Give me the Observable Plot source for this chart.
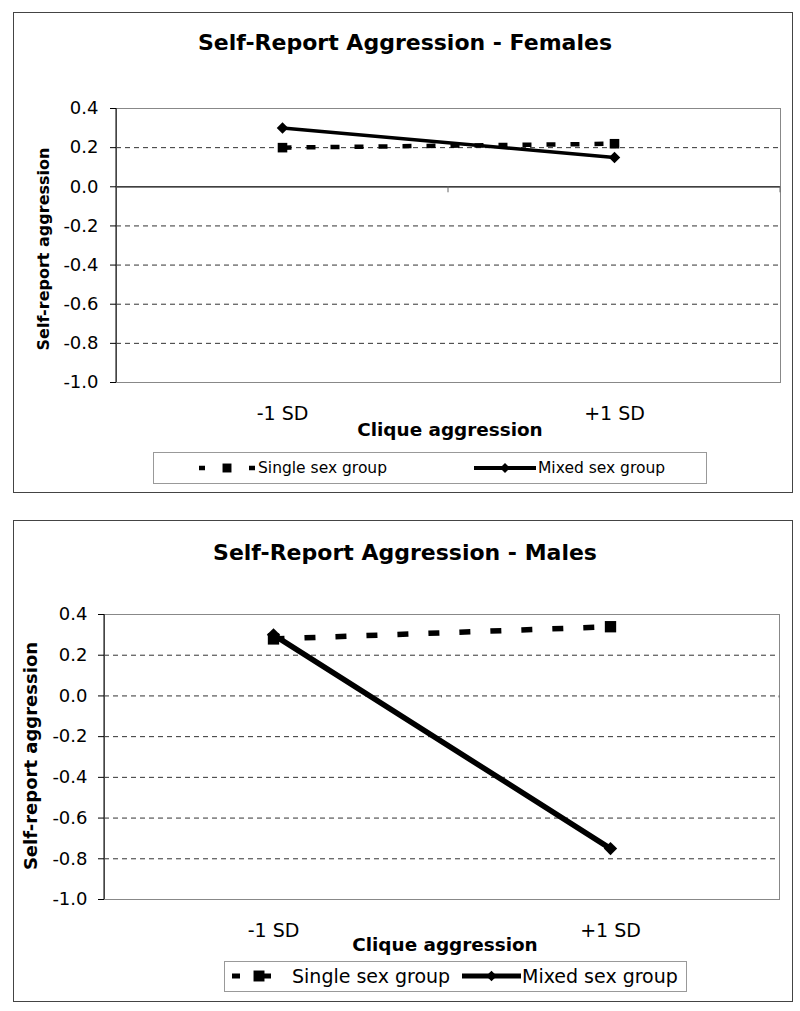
<!DOCTYPE html>
<html><head><meta charset="utf-8">
<script src="https://cdn.jsdelivr.net/npm/d3@7"></script>
<script src="https://cdn.jsdelivr.net/npm/@observablehq/plot@0.6"></script>
<style>
body{margin:0;background:#fff;font-family:"DejaVu Sans",sans-serif;}
#page{position:relative;width:800px;height:1011px;overflow:hidden;background:#fff;}
.panel{position:absolute;box-sizing:border-box;border:1.5px solid #444;}
.lbl{position:absolute;white-space:nowrap;text-align:center;color:#000;}
.legend{position:absolute;box-sizing:border-box;border:1px solid #999;background:#fff;}
.chart{position:absolute;left:0;}
</style></head><body><div id="page"></div>
<script>
// ---- data ----
const categories = ["-1 SD", "+1 SD"];
const seriesNames = ["Single sex group", "Mixed sex group"];
const femaleSingle = [0.20, 0.22];
const femaleMixed = [0.30, 0.15];
const maleSingle = [0.28, 0.34];
const maleMixed = [0.30, -0.75];
const yTicks = [0.4, 0.2, 0.0, -0.2, -0.4, -0.6, -0.8, -1.0];
const femaleGrid = [0.2, -0.2, -0.4, -0.6, -0.8];
const maleGrid = [0.2, 0.0, -0.2, -0.4, -0.6, -0.8];
const titles = ["Self-Report Aggression - Females", "Self-Report Aggression - Males"];
const xTitle = "Clique aggression";
const yTitle = "Self-report aggression";

function rows(single, mixed) {
  return categories.flatMap((c, i) => [
    {cat: c, series: seriesNames[0], value: single[i]},
    {cat: c, series: seriesNames[1], value: mixed[i]}
  ]);
}

const page = document.getElementById("page");

function label(text, cx, cy, size, weight, rotate) {
  const d = document.createElement("div");
  d.className = "lbl";
  d.textContent = text;
  d.style.left = (cx - 300) + "px";
  d.style.width = "600px";
  d.style.top = (cy - size) + "px";
  d.style.height = (2 * size) + "px";
  d.style.lineHeight = (2 * size) + "px";
  d.style.fontSize = size + "px";
  d.style.fontWeight = weight;
  if (rotate) d.style.transform = "rotate(-90deg)";
  page.appendChild(d);
}
function textAt(text, left, cy, size) {
  const d = document.createElement("div");
  d.className = "lbl";
  d.style.textAlign = "left";
  d.textContent = text;
  d.style.left = left + "px";
  d.style.top = (cy - size) + "px";
  d.style.height = (2 * size) + "px";
  d.style.lineHeight = (2 * size) + "px";
  d.style.fontSize = size + "px";
  page.appendChild(d);
}
function box(cls, l, t, w, h) {
  const d = document.createElement("div");
  d.className = cls;
  Object.assign(d.style, {left: l + "px", top: t + "px", width: w + "px", height: h + "px"});
  page.appendChild(d);
}
function sample(x0, x1, cy, opt) {
  const w = x1 - x0, h = 20;
  const svg = d3.create("svg").attr("width", w).attr("height", h)
    .style("position", "absolute").style("left", x0 + "px").style("top", (cy - h / 2) + "px").style("overflow", "visible");
  svg.append("line").attr("x1", 0).attr("x2", w).attr("y1", h / 2).attr("y2", h / 2)
    .attr("stroke", "#000").attr("stroke-width", opt.sw).attr("stroke-dasharray", opt.dash || null);
  svg.append("path").attr("transform", `translate(${opt.cx ?? w / 2},${h / 2})`)
    .attr("d", d3.symbol(opt.symbol, opt.size)()).attr("fill", "#000");
  page.appendChild(svg.node());
}

function chart(cfg, data) {
  const single = data.filter(d => d.series === seriesNames[0]);
  const mixed = data.filter(d => d.series === seriesNames[1]);
  const marks = [
    Plot.ruleY(cfg.grid, {stroke: "#333", strokeWidth: 1, strokeDasharray: "5,4"}),
    cfg.zeroAxis ? Plot.ruleY([0], {stroke: "#000", strokeWidth: 1.2}) : null,
    Plot.frame({stroke: "#888"}),
    (index, scales, values, dims) => {
      const g = d3.create("svg:g");
      const x0 = dims.marginLeft, x1 = dims.width - dims.marginRight;
      g.append("line").attr("x1", x0).attr("x2", x0)
        .attr("y1", dims.marginTop).attr("y2", dims.height - dims.marginBottom).attr("stroke", "#000");
      const y0 = scales.y(0);
      const mid = (scales.x(categories[0]) + scales.x(categories[1])) / 2;
      for (const xx of [mid, x1]) {
        g.append("line").attr("x1", xx).attr("x2", xx).attr("y1", y0).attr("y2", y0 + cfg.tick)
          .attr("stroke", "#666");
      }
      return g.node();
    },
    Plot.axisY({ticks: yTicks, tickFormat: d => d.toFixed(1), tickSize: 6, tickPadding: cfg.tp, fontSize: 18, label: null}),
    Plot.axisX({tickSize: 0, tickPadding: 24, fontSize: 19, label: null}),
    Plot.line(single, {x: "cat", y: "value", stroke: "#000", strokeWidth: cfg.dsw, strokeDasharray: cfg.dash, strokeLinecap: "butt"}),
    Plot.dot(single, {x: "cat", y: "value", symbol: "square", r: cfg.sq, fill: "#000"}),
    Plot.line(mixed, {x: "cat", y: "value", stroke: "#000", strokeWidth: cfg.sw}),
    Plot.dot(mixed, {x: "cat", y: "value", symbol: "diamond2", r: cfg.dm, fill: "#000"})
  ].filter(Boolean);
  const svg = Plot.plot({
    width: 800, height: cfg.h,
    marginTop: cfg.mt, marginBottom: cfg.mb, marginLeft: cfg.ml, marginRight: cfg.mr,
    style: {background: "none", fontFamily: "DejaVu Sans", color: "#000", overflow: "visible"},
    x: {type: "point", domain: categories, padding: 0.5},
    y: {domain: [-1, 0.4]},
    marks
  });
  svg.classList.add("chart");
  svg.style.top = cfg.top + "px";
  svg.style.position = "absolute";
  page.appendChild(svg);
}

// ---- Females panel ----
box("panel", 13, 12, 780, 481);
label(titles[0], 405, 43, 22, "bold");
chart({top: 90, h: 335, mt: 18, mb: 43, ml: 116, mr: 20, tp: 12, grid: femaleGrid, zeroAxis: true, tick: 6,
       sw: 3.5, dsw: 4.5, dash: "9,15", sq: 5.4, dm: 5.2}, rows(femaleSingle, femaleMixed));
label(xTitle, 450, 430, 18.4, "bold");
label(yTitle, 44, 249, 16, "bold", true);
box("legend", 153, 452, 554, 32);
sample(199, 255, 468, {sw: 4.5, dash: "6,44,6", symbol: d3.symbolSquare, size: 80});
textAt(seriesNames[0], 258, 468, 15.5);
sample(474, 536, 468, {sw: 4, symbol: d3.symbolDiamond2, size: 64});
textAt(seriesNames[1], 538, 468, 15.5);

// ---- Males panel ----
box("panel", 13, 520, 780, 482);
label(titles[1], 405, 553, 22, "bold");
chart({top: 600, h: 340, mt: 14, mb: 41, ml: 104, mr: 21, tp: 11, grid: maleGrid, zeroAxis: false, tick: 2,
       sw: 5.5, dsw: 5.5, dash: "11,20", sq: 6.4, dm: 6}, rows(maleSingle, maleMixed));
label(xTitle, 445, 945, 18.4, "bold");
label(yTitle, 31, 756, 18, "bold", true);
box("legend", 224, 961, 463, 31);
sample(232, 271, 976, {sw: 5, dash: "8,14,17", cx: 27, symbol: d3.symbolSquare, size: 120});
textAt(seriesNames[0], 292, 976, 19);
sample(462, 521, 976, {sw: 5, symbol: d3.symbolDiamond2, size: 72});
textAt(seriesNames[1], 522, 976, 19);
</script>
</body></html>
